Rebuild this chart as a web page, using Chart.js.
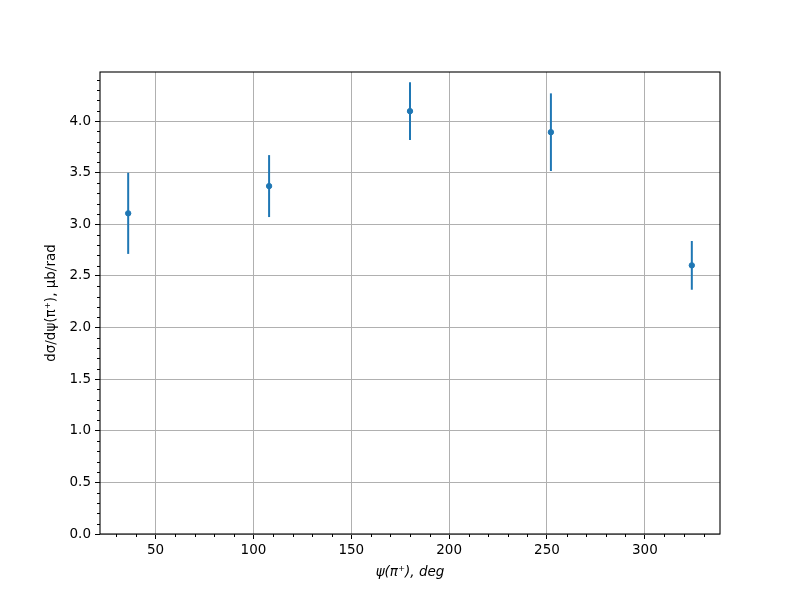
<!DOCTYPE html>
<html>
<head>
<meta charset="utf-8">
<script src="https://cdn.jsdelivr.net/npm/chart.js@4/dist/chart.umd.min.js"></script>
<style>
  body { margin: 0; background: #fff; }
  #wrap { width: 800px; height: 600px; }
</style>
</head>
<body>
<div id="wrap"><canvas id="chart" width="800" height="600"></canvas></div>
<script>
// angle bins (deg), cross section and its errors
const psiDeg = [36, 108, 180, 252, 324];
const dsigma = [3.106, 3.370, 4.096, 3.892, 2.602];
const dsigmaErr = [0.393, 0.300, 0.280, 0.376, 0.236];

const xTicks = [50, 100, 150, 200, 250, 300];
const yTicks = [0.0, 0.5, 1.0, 1.5, 2.0, 2.5, 3.0, 3.5, 4.0];
const xMinorStep = 10;
const yMinorStep = 0.1;
const xTitle = 'ψ(π⁺), deg';
const yTitle = 'dσ/dψ(π⁺), μb/rad';

const blue = '#1f77b4';
const font = { family: 'DejaVu Sans', size: 13.5 };

// vertical error bars, minor ticks, axis titles and the full axes frame
const extras = {
  id: 'extras',
  beforeDatasetsDraw(chart) {
    const ctx = chart.ctx;
    const xs = chart.scales.x, ys = chart.scales.y;
    ctx.save();
    ctx.strokeStyle = blue;
    ctx.lineWidth = 2;
    psiDeg.forEach((x, i) => {
      const px = xs.getPixelForValue(x);
      ctx.beginPath();
      ctx.moveTo(px, ys.getPixelForValue(dsigma[i] - dsigmaErr[i]));
      ctx.lineTo(px, ys.getPixelForValue(dsigma[i] + dsigmaErr[i]));
      ctx.stroke();
    });
    ctx.restore();
  },
  afterDraw(chart) {
    const ctx = chart.ctx;
    const a = chart.chartArea;
    const xs = chart.scales.x, ys = chart.scales.y;
    ctx.save();
    ctx.strokeStyle = '#000';
    ctx.lineWidth = 1;
    ctx.beginPath();
    for (let v = Math.ceil(xs.min / xMinorStep) * xMinorStep; v <= xs.max; v += xMinorStep) {
      if (v % 50 === 0) continue;
      const px = Math.round(xs.getPixelForValue(v)) + 0.5;
      ctx.moveTo(px, a.bottom);
      ctx.lineTo(px, a.bottom + 3);
    }
    for (let k = 0; k * yMinorStep <= ys.max; k++) {
      if (k % 5 === 0) continue;
      const py = Math.round(ys.getPixelForValue(k * yMinorStep)) + 0.5;
      ctx.moveTo(a.left, py);
      ctx.lineTo(a.left - 3, py);
    }
    ctx.stroke();
    ctx.lineWidth = 1.1;
    ctx.strokeRect(a.left, a.top, a.right - a.left, a.bottom - a.top);

    ctx.fillStyle = '#000';
    ctx.textAlign = 'center';
    ctx.textBaseline = 'middle';
    ctx.font = 'italic 13.5px "DejaVu Sans"';
    ctx.fillText(xTitle, (a.left + a.right) / 2, 572);
    ctx.font = '13.5px "DejaVu Sans"';
    ctx.translate(51, (a.top + a.bottom) / 2);
    ctx.rotate(-Math.PI / 2);
    ctx.fillText(yTitle, 0, 0);
    ctx.restore();
  }
};

new Chart(document.getElementById('chart'), {
  type: 'scatter',
  data: {
    datasets: [{
      data: psiDeg.map((x, i) => ({ x: x, y: dsigma[i] })),
      backgroundColor: blue,
      borderColor: blue,
      pointRadius: 2.7,
      pointHoverRadius: 2.7
    }]
  },
  options: {
    responsive: false,
    animation: false,
    events: [],
    layout: { padding: { top: 72, right: 80, left: 0, bottom: 0 } },
    plugins: { legend: { display: false }, tooltip: { enabled: false } },
    scales: {
      x: {
        type: 'linear',
        min: 21.6,
        max: 338.4,
        afterBuildTicks: s => { s.ticks = xTicks.map(v => ({ value: v })); },
        afterFit: s => { s.height = 66; },
        grid: { color: '#b0b0b0', lineWidth: 1, tickColor: '#000', tickLength: 5 },
        border: { display: false },
        ticks: { color: '#000', font: font, padding: 3, maxRotation: 0 }
      },
      y: {
        type: 'linear',
        min: 0,
        max: 4.475,
        afterBuildTicks: s => { s.ticks = yTicks.map(v => ({ value: v })); },
        afterFit: s => { s.width = 100; },
        grid: { color: '#b0b0b0', lineWidth: 1, tickColor: '#000', tickLength: 5 },
        border: { display: false },
        ticks: { color: '#000', font: font, padding: 4, callback: v => v.toFixed(1) }
      }
    }
  },
  plugins: [extras]
});
</script>
</body>
</html>
